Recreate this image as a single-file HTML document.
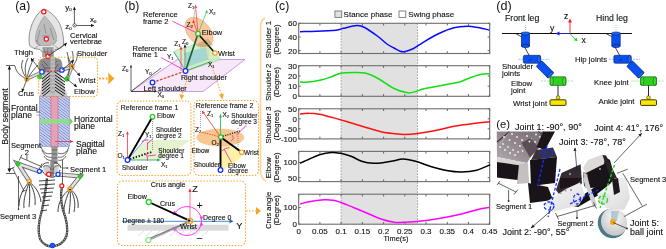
<!DOCTYPE html>
<html><head><meta charset="utf-8"><style>
html,body{margin:0;padding:0;background:#fff;overflow:hidden}
svg{display:block;filter:blur(0.3px)}
text{font-family:"Liberation Sans",sans-serif;fill:#111;stroke:#111;stroke-width:0.12px}
.tl{font-size:8px}
.xl{font-size:8px}
.xl2{font-size:7.4px}
.yl{font-size:7.7px}
.lg{font-size:8px}
.pl{font-size:12px;stroke-width:0}
.pl2{font-size:12.2px;stroke-width:0}
.t85{font-size:9px}
.t75{font-size:7.6px}
.t88{font-size:8.6px}
.t78{font-size:7.8px}
.t7{font-size:7.5px}
.t6{font-size:6.5px}
.t8{font-size:8px}
.t9{font-size:9px}
.sub{font-size:4.2px}
</style></head><body>
<svg width="666" height="249" viewBox="0 0 666 249">
<g id="chartc">
<rect x="341.1" y="23.3" width="76.4" height="200.9" fill="#e1e1e1"/>
<line x1="341.1" y1="23.3" x2="341.1" y2="224.2" stroke="#8a8a8a" stroke-width="0.8" stroke-dasharray="1.5,1.5"/>
<line x1="417.5" y1="23.3" x2="417.5" y2="224.2" stroke="#8a8a8a" stroke-width="0.8" stroke-dasharray="1.5,1.5"/>
<line x1="298.7" y1="23.3" x2="298.7" y2="25.5" stroke="#555" stroke-width="0.9"/>
<line x1="298.7" y1="53.5" x2="298.7" y2="51.3" stroke="#555" stroke-width="0.9"/>
<line x1="319.9" y1="23.3" x2="319.9" y2="25.5" stroke="#555" stroke-width="0.9"/>
<line x1="319.9" y1="53.5" x2="319.9" y2="51.3" stroke="#555" stroke-width="0.9"/>
<line x1="341.1" y1="23.3" x2="341.1" y2="25.5" stroke="#555" stroke-width="0.9"/>
<line x1="341.1" y1="53.5" x2="341.1" y2="51.3" stroke="#555" stroke-width="0.9"/>
<line x1="362.4" y1="23.3" x2="362.4" y2="25.5" stroke="#555" stroke-width="0.9"/>
<line x1="362.4" y1="53.5" x2="362.4" y2="51.3" stroke="#555" stroke-width="0.9"/>
<line x1="383.6" y1="23.3" x2="383.6" y2="25.5" stroke="#555" stroke-width="0.9"/>
<line x1="383.6" y1="53.5" x2="383.6" y2="51.3" stroke="#555" stroke-width="0.9"/>
<line x1="404.8" y1="23.3" x2="404.8" y2="25.5" stroke="#555" stroke-width="0.9"/>
<line x1="404.8" y1="53.5" x2="404.8" y2="51.3" stroke="#555" stroke-width="0.9"/>
<line x1="426.0" y1="23.3" x2="426.0" y2="25.5" stroke="#555" stroke-width="0.9"/>
<line x1="426.0" y1="53.5" x2="426.0" y2="51.3" stroke="#555" stroke-width="0.9"/>
<line x1="447.3" y1="23.3" x2="447.3" y2="25.5" stroke="#555" stroke-width="0.9"/>
<line x1="447.3" y1="53.5" x2="447.3" y2="51.3" stroke="#555" stroke-width="0.9"/>
<line x1="468.5" y1="23.3" x2="468.5" y2="25.5" stroke="#555" stroke-width="0.9"/>
<line x1="468.5" y1="53.5" x2="468.5" y2="51.3" stroke="#555" stroke-width="0.9"/>
<line x1="489.7" y1="23.3" x2="489.7" y2="25.5" stroke="#555" stroke-width="0.9"/>
<line x1="489.7" y1="53.5" x2="489.7" y2="51.3" stroke="#555" stroke-width="0.9"/>
<line x1="298.7" y1="23.3" x2="300.7" y2="23.3" stroke="#555" stroke-width="0.9"/>
<line x1="489.7" y1="23.3" x2="487.7" y2="23.3" stroke="#555" stroke-width="0.9"/>
<text x="296.9" y="26.2" class="tl" text-anchor="end">60</text>
<line x1="298.7" y1="37.0" x2="300.7" y2="37.0" stroke="#555" stroke-width="0.9"/>
<line x1="489.7" y1="37.0" x2="487.7" y2="37.0" stroke="#555" stroke-width="0.9"/>
<text x="296.9" y="39.9" class="tl" text-anchor="end">40</text>
<line x1="298.7" y1="50.6" x2="300.7" y2="50.6" stroke="#555" stroke-width="0.9"/>
<line x1="489.7" y1="50.6" x2="487.7" y2="50.6" stroke="#555" stroke-width="0.9"/>
<text x="296.9" y="53.5" class="tl" text-anchor="end">20</text>
<rect x="298.7" y="23.3" width="191.0" height="30.2" fill="none" stroke="#6e6e6e" stroke-width="1.1"/>
<path d="M300.0,31.7 C302.8,31.6 310.5,31.6 316.5,31.3 C322.5,31.1 331.5,30.7 336.0,30.2 C340.5,29.7 340.0,29.1 343.5,28.3 C347.0,27.5 353.5,25.7 357.0,25.6 C360.5,25.5 361.1,25.7 364.6,27.5 C368.1,29.3 374.3,33.8 378.0,36.5 C381.7,39.2 384.3,42.1 387.0,44.0 C389.7,45.9 391.8,46.8 394.0,48.0 C396.2,49.2 398.1,50.6 400.0,51.2 C401.9,51.8 403.1,52.0 405.3,51.5 C407.6,51.0 410.4,50.1 413.5,48.5 C416.6,46.9 419.8,44.3 424.0,41.8 C428.2,39.3 434.0,35.8 439.0,33.5 C444.0,31.2 449.2,29.0 454.0,27.8 C458.8,26.6 463.6,26.4 467.6,26.3 C471.6,26.2 474.4,26.9 478.0,27.5 C481.6,28.1 487.4,29.6 489.3,30.0" fill="none" stroke="#0a0aff" stroke-width="1.5"/>
<text transform="translate(271.3,39.6) rotate(-90)" class="yl" text-anchor="middle">Shoulder 1</text>
<text transform="translate(279.3,39.6) rotate(-90)" class="yl" text-anchor="middle">(Degree)</text>
<line x1="298.7" y1="65.7" x2="298.7" y2="67.9" stroke="#555" stroke-width="0.9"/>
<line x1="298.7" y1="96.3" x2="298.7" y2="94.1" stroke="#555" stroke-width="0.9"/>
<line x1="319.9" y1="65.7" x2="319.9" y2="67.9" stroke="#555" stroke-width="0.9"/>
<line x1="319.9" y1="96.3" x2="319.9" y2="94.1" stroke="#555" stroke-width="0.9"/>
<line x1="341.1" y1="65.7" x2="341.1" y2="67.9" stroke="#555" stroke-width="0.9"/>
<line x1="341.1" y1="96.3" x2="341.1" y2="94.1" stroke="#555" stroke-width="0.9"/>
<line x1="362.4" y1="65.7" x2="362.4" y2="67.9" stroke="#555" stroke-width="0.9"/>
<line x1="362.4" y1="96.3" x2="362.4" y2="94.1" stroke="#555" stroke-width="0.9"/>
<line x1="383.6" y1="65.7" x2="383.6" y2="67.9" stroke="#555" stroke-width="0.9"/>
<line x1="383.6" y1="96.3" x2="383.6" y2="94.1" stroke="#555" stroke-width="0.9"/>
<line x1="404.8" y1="65.7" x2="404.8" y2="67.9" stroke="#555" stroke-width="0.9"/>
<line x1="404.8" y1="96.3" x2="404.8" y2="94.1" stroke="#555" stroke-width="0.9"/>
<line x1="426.0" y1="65.7" x2="426.0" y2="67.9" stroke="#555" stroke-width="0.9"/>
<line x1="426.0" y1="96.3" x2="426.0" y2="94.1" stroke="#555" stroke-width="0.9"/>
<line x1="447.3" y1="65.7" x2="447.3" y2="67.9" stroke="#555" stroke-width="0.9"/>
<line x1="447.3" y1="96.3" x2="447.3" y2="94.1" stroke="#555" stroke-width="0.9"/>
<line x1="468.5" y1="65.7" x2="468.5" y2="67.9" stroke="#555" stroke-width="0.9"/>
<line x1="468.5" y1="96.3" x2="468.5" y2="94.1" stroke="#555" stroke-width="0.9"/>
<line x1="489.7" y1="65.7" x2="489.7" y2="67.9" stroke="#555" stroke-width="0.9"/>
<line x1="489.7" y1="96.3" x2="489.7" y2="94.1" stroke="#555" stroke-width="0.9"/>
<line x1="298.7" y1="65.7" x2="300.7" y2="65.7" stroke="#555" stroke-width="0.9"/>
<line x1="489.7" y1="65.7" x2="487.7" y2="65.7" stroke="#555" stroke-width="0.9"/>
<text x="296.9" y="68.6" class="tl" text-anchor="end">30</text>
<line x1="298.7" y1="76.0" x2="300.7" y2="76.0" stroke="#555" stroke-width="0.9"/>
<line x1="489.7" y1="76.0" x2="487.7" y2="76.0" stroke="#555" stroke-width="0.9"/>
<text x="296.9" y="78.9" class="tl" text-anchor="end">20</text>
<line x1="298.7" y1="86.2" x2="300.7" y2="86.2" stroke="#555" stroke-width="0.9"/>
<line x1="489.7" y1="86.2" x2="487.7" y2="86.2" stroke="#555" stroke-width="0.9"/>
<text x="296.9" y="89.1" class="tl" text-anchor="end">10</text>
<line x1="298.7" y1="96.3" x2="300.7" y2="96.3" stroke="#555" stroke-width="0.9"/>
<line x1="489.7" y1="96.3" x2="487.7" y2="96.3" stroke="#555" stroke-width="0.9"/>
<text x="296.9" y="99.2" class="tl" text-anchor="end">0</text>
<rect x="298.7" y="65.7" width="191.0" height="30.6" fill="none" stroke="#6e6e6e" stroke-width="1.1"/>
<path d="M300.0,81.8 C301.0,81.9 302.5,82.6 306.0,82.3 C309.5,82.0 316.8,80.9 321.0,80.0 C325.2,79.1 328.2,77.8 331.5,76.7 C334.8,75.6 336.8,74.0 340.5,73.3 C344.2,72.6 349.8,72.5 354.0,72.5 C358.2,72.5 362.0,72.3 366.0,73.3 C370.0,74.3 373.3,76.0 378.0,78.5 C382.7,81.0 389.1,86.1 394.0,88.5 C398.9,90.9 403.8,92.3 407.5,92.8 C411.2,93.3 413.8,92.0 416.5,91.3 C419.2,90.6 419.0,89.8 424.0,88.7 C429.0,87.6 440.7,85.6 446.5,84.5 C452.3,83.4 454.9,83.3 458.6,82.3 C462.4,81.2 465.3,79.5 469.0,78.2 C472.7,76.9 477.5,75.0 481.0,74.3 C484.5,73.5 488.5,73.8 490.0,73.7" fill="none" stroke="#12e012" stroke-width="1.5"/>
<text transform="translate(271.3,82.2) rotate(-90)" class="yl" text-anchor="middle">Shoulder 2</text>
<text transform="translate(279.3,82.2) rotate(-90)" class="yl" text-anchor="middle">(Degree)</text>
<line x1="298.7" y1="108.8" x2="298.7" y2="111.0" stroke="#555" stroke-width="0.9"/>
<line x1="298.7" y1="138.9" x2="298.7" y2="136.70000000000002" stroke="#555" stroke-width="0.9"/>
<line x1="319.9" y1="108.8" x2="319.9" y2="111.0" stroke="#555" stroke-width="0.9"/>
<line x1="319.9" y1="138.9" x2="319.9" y2="136.70000000000002" stroke="#555" stroke-width="0.9"/>
<line x1="341.1" y1="108.8" x2="341.1" y2="111.0" stroke="#555" stroke-width="0.9"/>
<line x1="341.1" y1="138.9" x2="341.1" y2="136.70000000000002" stroke="#555" stroke-width="0.9"/>
<line x1="362.4" y1="108.8" x2="362.4" y2="111.0" stroke="#555" stroke-width="0.9"/>
<line x1="362.4" y1="138.9" x2="362.4" y2="136.70000000000002" stroke="#555" stroke-width="0.9"/>
<line x1="383.6" y1="108.8" x2="383.6" y2="111.0" stroke="#555" stroke-width="0.9"/>
<line x1="383.6" y1="138.9" x2="383.6" y2="136.70000000000002" stroke="#555" stroke-width="0.9"/>
<line x1="404.8" y1="108.8" x2="404.8" y2="111.0" stroke="#555" stroke-width="0.9"/>
<line x1="404.8" y1="138.9" x2="404.8" y2="136.70000000000002" stroke="#555" stroke-width="0.9"/>
<line x1="426.0" y1="108.8" x2="426.0" y2="111.0" stroke="#555" stroke-width="0.9"/>
<line x1="426.0" y1="138.9" x2="426.0" y2="136.70000000000002" stroke="#555" stroke-width="0.9"/>
<line x1="447.3" y1="108.8" x2="447.3" y2="111.0" stroke="#555" stroke-width="0.9"/>
<line x1="447.3" y1="138.9" x2="447.3" y2="136.70000000000002" stroke="#555" stroke-width="0.9"/>
<line x1="468.5" y1="108.8" x2="468.5" y2="111.0" stroke="#555" stroke-width="0.9"/>
<line x1="468.5" y1="138.9" x2="468.5" y2="136.70000000000002" stroke="#555" stroke-width="0.9"/>
<line x1="489.7" y1="108.8" x2="489.7" y2="111.0" stroke="#555" stroke-width="0.9"/>
<line x1="489.7" y1="138.9" x2="489.7" y2="136.70000000000002" stroke="#555" stroke-width="0.9"/>
<line x1="298.7" y1="108.8" x2="300.7" y2="108.8" stroke="#555" stroke-width="0.9"/>
<line x1="489.7" y1="108.8" x2="487.7" y2="108.8" stroke="#555" stroke-width="0.9"/>
<text x="296.9" y="111.7" class="tl" text-anchor="end">50</text>
<line x1="298.7" y1="118.8" x2="300.7" y2="118.8" stroke="#555" stroke-width="0.9"/>
<line x1="489.7" y1="118.8" x2="487.7" y2="118.8" stroke="#555" stroke-width="0.9"/>
<text x="296.9" y="121.7" class="tl" text-anchor="end">0</text>
<line x1="298.7" y1="128.8" x2="300.7" y2="128.8" stroke="#555" stroke-width="0.9"/>
<line x1="489.7" y1="128.8" x2="487.7" y2="128.8" stroke="#555" stroke-width="0.9"/>
<text x="296.9" y="131.7" class="tl" text-anchor="end">-50</text>
<line x1="298.7" y1="138.9" x2="300.7" y2="138.9" stroke="#555" stroke-width="0.9"/>
<line x1="489.7" y1="138.9" x2="487.7" y2="138.9" stroke="#555" stroke-width="0.9"/>
<text x="296.9" y="141.8" class="tl" text-anchor="end">-100</text>
<rect x="298.7" y="108.8" width="191.0" height="30.1" fill="none" stroke="#6e6e6e" stroke-width="1.1"/>
<path d="M300.0,114.0 C301.5,113.9 305.8,113.2 309.0,113.3 C312.2,113.3 315.8,113.6 319.5,114.3 C323.2,115.0 328.0,116.4 331.5,117.3 C335.0,118.2 336.8,118.6 340.5,119.7 C344.2,120.8 349.2,122.4 354.0,123.8 C358.8,125.2 364.5,127.0 369.0,128.3 C373.5,129.6 376.8,130.8 381.0,131.7 C385.2,132.6 390.1,133.2 394.0,133.7 C397.9,134.2 400.5,134.6 404.5,134.6 C408.5,134.6 412.2,134.3 418.0,133.5 C423.8,132.7 433.0,131.0 439.0,129.8 C445.0,128.6 448.5,127.3 454.0,126.3 C459.5,125.3 466.0,124.5 472.0,123.8 C478.0,123.0 487.0,122.1 490.0,121.8" fill="none" stroke="#ff1010" stroke-width="1.5"/>
<text transform="translate(271.3,125.0) rotate(-90)" class="yl" text-anchor="middle">Shoulder 3</text>
<text transform="translate(279.3,125.0) rotate(-90)" class="yl" text-anchor="middle">(Degree)</text>
<line x1="298.7" y1="151.4" x2="298.7" y2="153.6" stroke="#555" stroke-width="0.9"/>
<line x1="298.7" y1="181.6" x2="298.7" y2="179.4" stroke="#555" stroke-width="0.9"/>
<line x1="319.9" y1="151.4" x2="319.9" y2="153.6" stroke="#555" stroke-width="0.9"/>
<line x1="319.9" y1="181.6" x2="319.9" y2="179.4" stroke="#555" stroke-width="0.9"/>
<line x1="341.1" y1="151.4" x2="341.1" y2="153.6" stroke="#555" stroke-width="0.9"/>
<line x1="341.1" y1="181.6" x2="341.1" y2="179.4" stroke="#555" stroke-width="0.9"/>
<line x1="362.4" y1="151.4" x2="362.4" y2="153.6" stroke="#555" stroke-width="0.9"/>
<line x1="362.4" y1="181.6" x2="362.4" y2="179.4" stroke="#555" stroke-width="0.9"/>
<line x1="383.6" y1="151.4" x2="383.6" y2="153.6" stroke="#555" stroke-width="0.9"/>
<line x1="383.6" y1="181.6" x2="383.6" y2="179.4" stroke="#555" stroke-width="0.9"/>
<line x1="404.8" y1="151.4" x2="404.8" y2="153.6" stroke="#555" stroke-width="0.9"/>
<line x1="404.8" y1="181.6" x2="404.8" y2="179.4" stroke="#555" stroke-width="0.9"/>
<line x1="426.0" y1="151.4" x2="426.0" y2="153.6" stroke="#555" stroke-width="0.9"/>
<line x1="426.0" y1="181.6" x2="426.0" y2="179.4" stroke="#555" stroke-width="0.9"/>
<line x1="447.3" y1="151.4" x2="447.3" y2="153.6" stroke="#555" stroke-width="0.9"/>
<line x1="447.3" y1="181.6" x2="447.3" y2="179.4" stroke="#555" stroke-width="0.9"/>
<line x1="468.5" y1="151.4" x2="468.5" y2="153.6" stroke="#555" stroke-width="0.9"/>
<line x1="468.5" y1="181.6" x2="468.5" y2="179.4" stroke="#555" stroke-width="0.9"/>
<line x1="489.7" y1="151.4" x2="489.7" y2="153.6" stroke="#555" stroke-width="0.9"/>
<line x1="489.7" y1="181.6" x2="489.7" y2="179.4" stroke="#555" stroke-width="0.9"/>
<line x1="298.7" y1="162.5" x2="300.7" y2="162.5" stroke="#555" stroke-width="0.9"/>
<line x1="489.7" y1="162.5" x2="487.7" y2="162.5" stroke="#555" stroke-width="0.9"/>
<text x="296.9" y="165.4" class="tl" text-anchor="end">100</text>
<line x1="298.7" y1="177.7" x2="300.7" y2="177.7" stroke="#555" stroke-width="0.9"/>
<line x1="489.7" y1="177.7" x2="487.7" y2="177.7" stroke="#555" stroke-width="0.9"/>
<text x="296.9" y="180.6" class="tl" text-anchor="end">50</text>
<rect x="298.7" y="151.4" width="191.0" height="30.2" fill="none" stroke="#6e6e6e" stroke-width="1.1"/>
<path d="M300.0,163.3 C301.5,162.6 305.8,160.7 309.0,159.3 C312.2,157.9 315.8,155.9 319.5,154.8 C323.2,153.7 328.0,152.8 331.5,152.5 C335.0,152.2 337.2,152.7 340.5,153.3 C343.8,153.9 347.5,155.0 351.0,156.3 C354.5,157.6 357.8,160.0 361.6,161.2 C365.4,162.4 369.9,163.1 373.6,163.3 C377.3,163.5 380.6,163.0 384.0,162.6 C387.4,162.2 390.8,161.4 394.0,160.8 C397.2,160.2 399.2,158.9 403.0,159.0 C406.8,159.1 411.8,160.2 416.5,161.5 C421.2,162.8 426.5,165.3 431.5,166.8 C436.5,168.3 441.5,169.6 446.5,170.5 C451.5,171.4 456.6,172.1 461.6,172.0 C466.6,171.9 471.9,171.4 476.6,170.2 C481.3,169.0 487.8,165.7 490.0,164.8" fill="none" stroke="#000000" stroke-width="1.5"/>
<text transform="translate(271.3,167.7) rotate(-90)" class="yl" text-anchor="middle">Elbow</text>
<text transform="translate(279.3,167.7) rotate(-90)" class="yl" text-anchor="middle">(Degree)</text>
<line x1="298.7" y1="194.2" x2="298.7" y2="196.39999999999998" stroke="#555" stroke-width="0.9"/>
<line x1="298.7" y1="224.2" x2="298.7" y2="222.0" stroke="#555" stroke-width="0.9"/>
<line x1="319.9" y1="194.2" x2="319.9" y2="196.39999999999998" stroke="#555" stroke-width="0.9"/>
<line x1="319.9" y1="224.2" x2="319.9" y2="222.0" stroke="#555" stroke-width="0.9"/>
<line x1="341.1" y1="194.2" x2="341.1" y2="196.39999999999998" stroke="#555" stroke-width="0.9"/>
<line x1="341.1" y1="224.2" x2="341.1" y2="222.0" stroke="#555" stroke-width="0.9"/>
<line x1="362.4" y1="194.2" x2="362.4" y2="196.39999999999998" stroke="#555" stroke-width="0.9"/>
<line x1="362.4" y1="224.2" x2="362.4" y2="222.0" stroke="#555" stroke-width="0.9"/>
<line x1="383.6" y1="194.2" x2="383.6" y2="196.39999999999998" stroke="#555" stroke-width="0.9"/>
<line x1="383.6" y1="224.2" x2="383.6" y2="222.0" stroke="#555" stroke-width="0.9"/>
<line x1="404.8" y1="194.2" x2="404.8" y2="196.39999999999998" stroke="#555" stroke-width="0.9"/>
<line x1="404.8" y1="224.2" x2="404.8" y2="222.0" stroke="#555" stroke-width="0.9"/>
<line x1="426.0" y1="194.2" x2="426.0" y2="196.39999999999998" stroke="#555" stroke-width="0.9"/>
<line x1="426.0" y1="224.2" x2="426.0" y2="222.0" stroke="#555" stroke-width="0.9"/>
<line x1="447.3" y1="194.2" x2="447.3" y2="196.39999999999998" stroke="#555" stroke-width="0.9"/>
<line x1="447.3" y1="224.2" x2="447.3" y2="222.0" stroke="#555" stroke-width="0.9"/>
<line x1="468.5" y1="194.2" x2="468.5" y2="196.39999999999998" stroke="#555" stroke-width="0.9"/>
<line x1="468.5" y1="224.2" x2="468.5" y2="222.0" stroke="#555" stroke-width="0.9"/>
<line x1="489.7" y1="194.2" x2="489.7" y2="196.39999999999998" stroke="#555" stroke-width="0.9"/>
<line x1="489.7" y1="224.2" x2="489.7" y2="222.0" stroke="#555" stroke-width="0.9"/>
<line x1="298.7" y1="207.5" x2="300.7" y2="207.5" stroke="#555" stroke-width="0.9"/>
<line x1="489.7" y1="207.5" x2="487.7" y2="207.5" stroke="#555" stroke-width="0.9"/>
<text x="296.9" y="210.4" class="tl" text-anchor="end">100</text>
<line x1="298.7" y1="224.2" x2="300.7" y2="224.2" stroke="#555" stroke-width="0.9"/>
<line x1="489.7" y1="224.2" x2="487.7" y2="224.2" stroke="#555" stroke-width="0.9"/>
<text x="296.9" y="227.1" class="tl" text-anchor="end">0</text>
<rect x="298.7" y="194.2" width="191.0" height="30.0" fill="none" stroke="#6e6e6e" stroke-width="1.1"/>
<path d="M300.0,204.0 C301.5,203.6 305.0,202.4 309.0,201.7 C313.0,201.0 320.0,200.1 324.0,199.8 C328.0,199.6 330.2,199.8 333.0,200.2 C335.8,200.6 337.0,201.1 340.5,202.3 C344.0,203.6 349.2,205.8 354.0,207.7 C358.8,209.6 364.5,212.1 369.0,214.0 C373.5,215.9 376.8,217.6 381.0,219.0 C385.2,220.4 390.3,221.6 394.0,222.2 C397.7,222.8 399.2,222.4 403.0,222.3 C406.8,222.2 410.5,222.1 416.5,221.5 C422.5,220.9 431.5,219.8 439.0,218.5 C446.5,217.2 455.1,215.5 461.6,214.0 C468.1,212.5 473.4,210.6 478.0,209.5 C482.6,208.4 487.2,207.9 489.0,207.6" fill="none" stroke="#ff00ff" stroke-width="1.5"/>
<text transform="translate(271.3,210.4) rotate(-90)" class="yl" text-anchor="middle">Crus angle</text>
<text transform="translate(279.3,210.4) rotate(-90)" class="yl" text-anchor="middle">(Degree)</text>
<text x="298.7" y="234.2" class="xl" text-anchor="middle">0</text>
<text x="319.9" y="234.2" class="xl" text-anchor="middle">0.05</text>
<text x="341.1" y="234.2" class="xl" text-anchor="middle">0.1</text>
<text x="362.4" y="234.2" class="xl" text-anchor="middle">0.15</text>
<text x="383.6" y="234.2" class="xl" text-anchor="middle">0.2</text>
<text x="404.8" y="234.2" class="xl" text-anchor="middle">0.25</text>
<text x="426.0" y="234.2" class="xl" text-anchor="middle">0.3</text>
<text x="447.3" y="234.2" class="xl" text-anchor="middle">0.35</text>
<text x="468.5" y="234.2" class="xl" text-anchor="middle">0.4</text>
<text x="489.7" y="234.2" class="xl" text-anchor="middle">0.45</text>
<text x="396" y="240.5" class="xl2" text-anchor="middle">Time(s)</text>
<rect x="334.9" y="11" width="6.8" height="6.4" fill="#e1e1e1" stroke="#777" stroke-width="0.9"/>
<text x="343.6" y="17" class="lg">Stance phase</text>
<rect x="399" y="11" width="6.8" height="6.4" fill="#fff" stroke="#777" stroke-width="0.9"/>
<text x="408.3" y="17" class="lg">Swing phase</text>
<text x="275" y="9.8" class="pl2">(c)</text>
</g>
<g id="pa">
<text x="15.3" y="10.2" class="pl2">(a)</text>
<!-- coordinate axes -->
<line x1="74.4" y1="25.5" x2="74.4" y2="9" stroke="#333" stroke-width="0.8"/>
<path d="M73,10 L74.4,6.5 L75.8,10 Z" fill="#111"/>
<line x1="74.4" y1="25.5" x2="92" y2="25.5" stroke="#333" stroke-width="0.8"/>
<path d="M91,24.1 L94.5,25.5 L91,26.9 Z" fill="#111"/>
<circle cx="74.6" cy="25.4" r="1.7" fill="#fff" stroke="#333" stroke-width="0.7"/>
<circle cx="74.4" cy="25.5" r="0.5" fill="#333"/>
<text x="65.3" y="9.5" class="t8">y<tspan class="sub" dy="1" style="font-size:4.3px">0</tspan></text>
<text x="90" y="22" class="t8">x<tspan class="sub" dy="1" style="font-size:4.3px">0</tspan></text>
<text x="65.3" y="28.8" class="t8">z<tspan class="sub" dy="1" style="font-size:4.3px">0</tspan></text>
<!-- skull -->
<path d="M44,9 C39,11 34,18 31,27 C29,33 28.5,40 29.5,45 C31,48 36,49 40,49.5 L43,53 L52,53 L55,49.5 C59,49 63,48 63.5,45 C64,40 63,33 61,27 C58,18 50,11 44,9 Z" fill="#e4e4e4" stroke="#6a6a6a" stroke-width="0.7"/>
<path d="M44.5,16 C41,20 37,28 35.5,36 C35,41 36,44 39,45.5 L50,45.5 C54,44 57,41 56.5,36 C55,28 49,20 44.5,16 Z" fill="#bcbcbc" stroke="#888" stroke-width="0.5"/>
<path d="M36,40 L40,46 M53,46 L57,40 M44,24 L46,34 M40,30 L37,42 M50,28 L54,40 M42,36 L50,36 M38,46 L34,49 M55,46 L59,49" stroke="#666" stroke-width="0.5" fill="none"/>
<!-- neck/shoulder girdle -->
<path d="M42.5,47 L53.5,47 L54,57 L42,57 Z" fill="#a8a8a8"/>
<path d="M44,48 L46,56 M48,48 L47,56 M51,48 L52,56 M43,52 L53,52" stroke="#555" stroke-width="0.5" fill="none"/>
<path d="M40,60 C44,57 52,57 60,59 C63,62 63,68 61,73 L41,73 C38,69 38,63 40,60 Z" fill="#8e8e8e"/>
<path d="M43,61 L48,66 M57,61 L52,66 M44,68 L56,68 M42,64 L46,71 M58,64 L54,71" stroke="#444" stroke-width="0.6" fill="none"/>
<path d="M43,72 L60,72 L67.5,96 L40,96 Z" fill="#c4c4c4"/>
<path d="M50.5,72 L42,79 M50.5,75 L42,82 M50.5,78 L42,85 M50.5,81 L42,88 M50.5,84 L42,91 M50.5,87 L42,94 M50.5,90 L42,97 " stroke="#151515" stroke-width="1" fill="none"/>
<path d="M55,72 L65,79 M55,75 L65,82 M55,78 L65,85 M55,81 L65,88 M55,84 L65,91 M55,87 L65,94 M55,90 L65,97 " stroke="#151515" stroke-width="1" fill="none"/>
<rect x="50.5" y="57" width="4.5" height="39" fill="#bdbdbd"/>
<path d="M50.5,60 L55,60 M50.5,64 L55,64 M50.5,68 L55,68 M50.5,72 L55,72 M50.5,76 L55,76 M50.5,80 L55,80 M50.5,84 L55,84 M50.5,88 L55,88 M50.5,92 L55,92" stroke="#777" stroke-width="0.5"/>
<!-- front limbs -->
<g stroke="#777" stroke-width="3.4" stroke-linecap="round" fill="none">
<path d="M42,72 L27,79"/>
<path d="M62,70 L72,67 L67,79"/>
</g>
<g stroke="#e4e4e4" stroke-width="1.8" stroke-linecap="round" fill="none">
<path d="M42,72 L27,79"/>
<path d="M62,70 L72,67 L67,79"/>
</g>
<g stroke="#2a2a2a" stroke-width="0.75" fill="none">
<path d="M27,79 C22,72 20,66 23,60 M27,79 C24,70 25,64 28,58 M27,79 C28,71 31,64 34,58 M27,79 C31,73 35,68 38,65 M27,79 C20,76 16,72 15,66"/>
<path d="M72,67 C70,62 68,57 67,52 M72,67 C73,61 74,56 72,51 M72,67 C76,62 78,58 77,53 M67,79 C70,72 70,66 68,58"/>
</g>
<!-- ribcage body with planes -->
<defs>
<pattern id="ribp" patternUnits="userSpaceOnUse" width="3.2" height="3.2" patternTransform="rotate(-8)">
<rect width="3.2" height="3.2" fill="#c6d0f4"/>
<path d="M-0.8,-0.8 L4,4 M-0.8,2.4 L0.8,4 M2.4,-0.8 L4,0.8" stroke="#6474b0" stroke-width="0.75"/>
</pattern>
</defs>
<rect x="39.5" y="96.5" width="30" height="50" fill="url(#ribp)" stroke="#8890d0" stroke-width="0.6"/>
<rect x="51" y="96.5" width="7" height="51" fill="#e6a2b4" stroke="#c05080" stroke-width="0.5"/>
<rect x="39.5" y="119" width="30" height="4.8" fill="#8ee08a" fill-opacity="0.9"/>
<path d="M69.5,117.5 L73,121.4 L69.5,125.3 Z" fill="#70d070"/>
<path d="M36.5,115 L40,115" stroke="#666" stroke-width="0.6"/>
<!-- lower ribs / spine -->
<g stroke="#333" stroke-width="0.75" fill="none">
<path d="M41,147 C43,153 48,155 52,153 M69,147 C67,153 62,155 58,153"/>
<path d="M42,150 C45,157 49,158 52,157 M68,150 C65,157 61,158 58,157"/>
<path d="M44,156 C46,160 50,161 52,160 M66,156 C64,160 60,161 58,160"/>
</g>
<rect x="51.5" y="146" width="6" height="18" fill="#9a9a9a"/>
<path d="M51.5,150 L57.5,150 M51.5,154 L57.5,154 M51.5,158 L57.5,158 M51.5,162 L57.5,162" stroke="#444" stroke-width="0.6"/>
<!-- pelvis -->
<path d="M41,168 C42,164 46,162 49,163 M61,168 C60,164 56,162 53,163 M42,170 C44,175 48,177 52,177 C56,177 59,174 60,170" fill="none" stroke="#2a2a2a" stroke-width="0.9"/><path d="M43,166 C47,164 56,164 59,166 L58,172 L44,172 Z" fill="#cfcfcf"/><rect x="50.3" y="160" width="3.8" height="18" fill="#8a8a8a"/>
<path d="M43,167 C46,164 50,166 51,170 M61,167 C58,164 54,166 53,170 M45,173 L58,173" stroke="#333" stroke-width="0.6" fill="none"/>
<!-- hind limbs -->
<g stroke="#6a6a6a" stroke-width="4.4" stroke-linecap="round" fill="none">
<path d="M39.4,171.3 L18,163.8 L29.4,181.3"/>
<path d="M58,174.4 L80,176.3 L70,189"/>
</g>
<g stroke="#e2e2e2" stroke-width="2.6" stroke-linecap="round" fill="none">
<path d="M39.4,171.3 L18,163.8 L29.4,181.3"/>
<path d="M58,174.4 L80,176.3 L70,189"/>
</g>
<!-- feet -->
<g stroke="#222" stroke-width="0.85" fill="none">
<path d="M29,182 C24,188 19,195 19,206 M29,182 C27,190 23,198 24,208 M29,182 C30,190 30,198 29,207 M29,182 C33,188 36,196 35,205 M29,182 C35,186 40,193 41,202"/>
<path d="M70,189 C63,194 58,202 58,212 M70,189 C67,197 63,205 64,215 M70,189 C71,197 70,205 69,214 M70,189 C74,195 76,203 74,212 M70,189 C76,193 79,200 78,208"/>
</g>
<!-- spine & tail -->
<path d="M47,178 C46,190 44,200 42,210 C39,220 37,230 40,239 C43,245 49,247 52.5,246 C58,246.5 64,243 66.5,236 C68.5,228 66,218 63,210 C61,202 60.5,194 61.8,188" fill="none" stroke="#444" stroke-width="2.3"/>
<path d="M47,178 C46,190 44,200 42,210 C39,220 37,230 40,239 C43,245 49,247 52.5,246 C58,246.5 64,243 66.5,236 C68.5,228 66,218 63,210 C61,202 60.5,194 61.8,188" fill="none" stroke="#bbb" stroke-width="1.2" stroke-dasharray="1,1.6"/>
<g stroke="#2a2a2a" stroke-width="0.9" fill="none">
<path d="M39,181 L55,180 M39,185 L55,184 M40,189 L54,188 M41,193 L53,192 M42,197 L52,196 M43,201 L50,200 M42,206 L49,205 M41,211 L47,210"/>
</g>
<!-- joint markers -->
<g fill="#fff" stroke-width="1.2">
<circle cx="43.8" cy="11.8" r="2.1" stroke="#ff1010"/>
<circle cx="46.3" cy="39" r="2.1" stroke="#ff1010"/>
<circle cx="48" cy="56.3" r="2.1" stroke="#ff1010"/>
<circle cx="48.7" cy="174.2" r="2.1" stroke="#ff1010"/>
<circle cx="61.8" cy="185.8" r="2" stroke="#ff1010"/>
</g>
<line x1="44" y1="72" x2="61" y2="70.3" stroke="#ff1010" stroke-width="1.3" stroke-dasharray="1.5,1.8"/>
<g fill="#fff" stroke-width="1.3">
<circle cx="41.9" cy="71.9" r="2.2" stroke="#1040ff"/>
<circle cx="61.9" cy="70" r="2.2" stroke="#1040ff"/>
<circle cx="39.4" cy="171.3" r="2" stroke="#1040ff"/>
<circle cx="58" cy="174.4" r="2" stroke="#1040ff"/>
<circle cx="52.5" cy="245.5" r="2" stroke="#1040ff" fill="#3060ff"/>
</g>
<g fill="#30d030" stroke="#20b020" stroke-width="0.8">
<circle cx="39.75" cy="76.9" r="2.2"/>
<circle cx="66.9" cy="79" r="2.2"/>
<circle cx="18" cy="163.8" r="2.1"/>
<circle cx="80" cy="176.3" r="2.1"/>
</g>
<g fill="none" stroke="#f0a020" stroke-width="1.3">
<circle cx="71.9" cy="66.9" r="2"/>
<circle cx="26.9" cy="79" r="2"/>
<circle cx="29.4" cy="181.3" r="2"/>
<circle cx="70" cy="189" r="2"/>
</g>
<!-- dotted orange box and arrow -->
<path d="M43,57.2 L93,57.2 Q97.5,57.2 97.5,61.5 L97.5,92.5 Q97.5,96.5 93,96.5 L43,96.5 Q38.7,96.5 38.7,92.5 L38.7,61.5 Q38.7,57.2 43,57.2 Z" fill="none" stroke="#f5a623" stroke-width="1.1" stroke-dasharray="1.4,1.6"/>
<path d="M99,78.5 L108,78.5" stroke="#f5a623" stroke-width="2" stroke-dasharray="1.8,1.6"/>
<path d="M108.3,72.5 L114.3,78.5 L108.3,84.5 Z" fill="#f5a623"/>
<!-- pointers -->
<g stroke="#222" stroke-width="0.7" fill="none">
<path d="M48,56 L67,43"/>
<path d="M40,70 L31,58"/>
<path d="M27,79 L22,92"/>
<path d="M61.9,70 L74,60"/>
<path d="M71.9,67 L80,76"/>
<path d="M66.9,79 L77,87"/>

<path d="M9.4,66 L9.4,171"/>
<path d="M6,65.5 L15,65.5 M6,173.5 L15,173.5"/>
<path d="M20.6,157.5 L40.6,166.2 M19.2,160.5 L22,154.5 M39.2,169 L42,163.5 M26.9,155 L26.9,160"/>
<path d="M12.5,168 L24,191 M10.5,169 L14.5,167 M22,192 L26,190 M18.5,176 L18.5,209"/>
<path d="M62.5,160 L62.5,184 M62.5,168 L67,168"/>
<path d="M36,112 L40,112"/>
</g>
<g fill="#111">
<path d="M67,43 L63.5,44 L65.5,46.5 Z"/>
<path d="M31,58 L31.2,61.7 L33.7,60 Z"/>
<path d="M22,92 L21.5,88.5 L24.4,89.5 Z"/>
<path d="M74,60 L70.5,61 L72.5,63.3 Z"/>
<path d="M80,76 L79.5,72.5 L77,74.7 Z"/>
<path d="M77,87 L75.5,83.7 L73.5,86 Z"/>
<path d="M73.5,141.5 L70,140 L70,143 Z" fill="#e03060"/>
<path d="M7.5,168.5 L9.4,172.5 L11.3,168.5 Z"/>
<path d="M7.8,69.5 L9.4,65.8 L11,69.5 Z"/>
<circle cx="18.5" cy="209.3" r="0.8"/>
<circle cx="67.5" cy="168" r="0.8"/>
</g>
<line x1="55" y1="141.5" x2="73" y2="141.5" stroke="#e03060" stroke-width="0.8"/>
<!-- labels -->
<text x="70" y="38" class="t75">Cervical</text>
<text x="70" y="44" class="t75">vertebrae</text>
<text x="14" y="55" class="t75">Thigh</text>
<text x="77" y="56" class="t75">Shoulder</text>
<text x="78.5" y="82.8" class="t75">Wrist</text>
<text x="74" y="93.8" class="t75">Elbow</text>
<text x="18" y="96" class="t75">Crus</text>
<text x="11" y="110.7" class="t88">Frontal</text>
<text x="11" y="117.8" class="t88">plane</text>
<text x="74" y="121.7" class="t88">Horizontal</text>
<text x="74" y="128.8" class="t88">plane</text>
<text x="76" y="147" class="t88">Sagittal</text>
<text x="76" y="154" class="t88">plane</text>
<text x="11" y="147.7" class="t7">Segment</text>
<text x="24.8" y="154.6" class="t7">2</text>
<text x="70" y="171.5" class="t7">Segment 1</text>
<text x="0" y="218.7" class="t7">Segment 3</text>
<text transform="translate(7.9,116.5) rotate(-90)" class="t9" text-anchor="middle" style="font-size:8.8px">Body segment</text>
</g>
<g id="pd">
<text x="496.3" y="9.8" class="pl2" style="font-size:12.6px">(d)</text>
<text x="505" y="20.9" class="t8" style="font-size:8.7px">Front leg</text>
<text x="596" y="20.9" class="t8" style="font-size:8.7px">Hind leg</text>
<line x1="502" y1="33.5" x2="632" y2="33.5" stroke="#111" stroke-width="1"/>
<!-- axes -->
<line x1="570" y1="33.5" x2="570" y2="21" stroke="#f02030" stroke-width="0.9"/>
<path d="M568,22.5 L570,18.5 L572,22.5 Z" fill="#f02030"/>
<line x1="570" y1="33.5" x2="558" y2="33.5" stroke="#2020d0" stroke-width="1"/>
<path d="M559.5,31.6 L555.5,33.5 L559.5,35.4 Z" fill="#2020d0"/>
<line x1="570" y1="33.5" x2="575.5" y2="39.5" stroke="#20d020" stroke-width="0.9"/>
<path d="M573.8,40.3 L577.5,41.3 L576.6,37.6 Z" fill="#20d020"/>
<text x="564" y="19" class="t8" style="font-size:8.6px">z</text>
<text x="550" y="30.5" class="t8" style="font-size:8.6px">y</text>
<text x="581.5" y="42.8" class="t8" style="font-size:8.6px">x</text>
</g>
<line x1="525.5" y1="25" x2="525.5" y2="31" stroke="#70b0f0" stroke-width="0.8" stroke-dasharray="1,1"/>
<path d="M515.5,33.5 L521.0,36.5" stroke="#111" stroke-width="0.8" fill="none"/>
<rect x="521.3" y="33" width="8.4" height="13" fill="#0a50f0" stroke="#08205a" stroke-width="0.6"/>
<ellipse cx="525.5" cy="33.5" rx="4.2" ry="1.6" fill="#1a66ff" stroke="#08205a" stroke-width="0.6"/>
<ellipse cx="525.5" cy="46" rx="4.2" ry="1.6" fill="#0a50f0" stroke="#08205a" stroke-width="0.6"/>
<path d="M524.5,47 L529.5,56" stroke="#111" stroke-width="0.8" fill="none"/>
<line x1="518.5" y1="59.3" x2="549.5" y2="59.3" stroke="#70a8f0" stroke-width="0.7" stroke-dasharray="2,1"/>
<rect x="523.3" y="55.3" width="17.4" height="8" rx="1.5" fill="#0a50f0" stroke="#08205a" stroke-width="0.6"/>
<ellipse cx="539.0" cy="59.3" rx="1.6" ry="4" fill="#1a66ff" stroke="#08205a" stroke-width="0.5"/>
<path d="M528.5,61 L531.5,59" stroke="#111" stroke-width="0.6"/>
<g transform="translate(545.0,69.5) rotate(45)"><rect x="-8.5" y="-4" width="17" height="8" rx="1" fill="#0a50f0" stroke="#08205a" stroke-width="0.6"/><ellipse cx="7.3" cy="0" rx="1.4" ry="4" fill="#1a66ff" stroke="#08205a" stroke-width="0.5"/></g>
<line x1="541.0" y1="81" x2="573.0" y2="81" stroke="#80e080" stroke-width="0.7" stroke-dasharray="2,1"/>
<rect x="550.0" y="76.8" width="16" height="8.6" rx="1.2" fill="#30d020" stroke="#105010" stroke-width="0.6"/>
<ellipse cx="551.7" cy="81.1" rx="1.6" ry="4.2" fill="#40e030" stroke="#105010" stroke-width="0.5"/>
<ellipse cx="564.3" cy="81.1" rx="1.6" ry="4.2" fill="#40e030" stroke="#105010" stroke-width="0.5"/>
<line x1="558.0" y1="85.5" x2="558.0" y2="97" stroke="#111" stroke-width="0.9"/>
<circle cx="558.0" cy="97.6" r="1.9" fill="#f0d800" stroke="#3a3000" stroke-width="0.5"/>
<rect x="550.0" y="99.8" width="16" height="5.6" rx="1" fill="#f8e800" stroke="#2a2400" stroke-width="0.9"/>
<line x1="616.0" y1="25" x2="616.0" y2="31" stroke="#70b0f0" stroke-width="0.8" stroke-dasharray="1,1"/>
<path d="M606.0,33.5 L611.5,36.5" stroke="#111" stroke-width="0.8" fill="none"/>
<rect x="611.8" y="33" width="8.4" height="13" fill="#0a50f0" stroke="#08205a" stroke-width="0.6"/>
<ellipse cx="616.0" cy="33.5" rx="4.2" ry="1.6" fill="#1a66ff" stroke="#08205a" stroke-width="0.6"/>
<ellipse cx="616.0" cy="46" rx="4.2" ry="1.6" fill="#0a50f0" stroke="#08205a" stroke-width="0.6"/>
<path d="M615.0,47 L620.0,56" stroke="#111" stroke-width="0.8" fill="none"/>
<line x1="609.0" y1="59.3" x2="640.0" y2="59.3" stroke="#70a8f0" stroke-width="0.7" stroke-dasharray="2,1"/>
<rect x="613.8" y="55.3" width="17.4" height="8" rx="1.5" fill="#0a50f0" stroke="#08205a" stroke-width="0.6"/>
<ellipse cx="629.5" cy="59.3" rx="1.6" ry="4" fill="#1a66ff" stroke="#08205a" stroke-width="0.5"/>
<path d="M619.0,61 L622.0,59" stroke="#111" stroke-width="0.6"/>
<g transform="translate(635.5,69.5) rotate(45)"><rect x="-8.5" y="-4" width="17" height="8" rx="1" fill="#0a50f0" stroke="#08205a" stroke-width="0.6"/><ellipse cx="7.3" cy="0" rx="1.4" ry="4" fill="#1a66ff" stroke="#08205a" stroke-width="0.5"/></g>
<line x1="631.5" y1="81" x2="663.5" y2="81" stroke="#80e080" stroke-width="0.7" stroke-dasharray="2,1"/>
<rect x="640.5" y="76.8" width="16" height="8.6" rx="1.2" fill="#30d020" stroke="#105010" stroke-width="0.6"/>
<ellipse cx="642.2" cy="81.1" rx="1.6" ry="4.2" fill="#40e030" stroke="#105010" stroke-width="0.5"/>
<ellipse cx="654.8" cy="81.1" rx="1.6" ry="4.2" fill="#40e030" stroke="#105010" stroke-width="0.5"/>
<line x1="648.5" y1="85.5" x2="648.5" y2="97" stroke="#111" stroke-width="0.9"/>
<circle cx="648.5" cy="97.6" r="1.9" fill="#f0d800" stroke="#3a3000" stroke-width="0.5"/>
<rect x="640.5" y="99.8" width="16" height="5.6" rx="1" fill="#f8e800" stroke="#2a2400" stroke-width="0.9"/>
<text x="502" y="68.5" class="t78">Shoulder</text>
<text x="502" y="76" class="t78">joints</text>
<text x="511" y="86" class="t78">Elbow</text>
<text x="511" y="93" class="t78">joint</text>
<text x="513" y="106" class="t78">Wrist joint</text>
<text x="575" y="61.5" class="t78">Hip joints</text>
<text x="594" y="84.5" class="t78">Knee joint</text>
<text x="598.5" y="103.5" class="t78">Ankle joint</text>
<g id="pe">
<defs>
<linearGradient id="plateg" x1="0" y1="1" x2="1" y2="0">
<stop offset="0" stop-color="#b4acb2"/><stop offset="0.55" stop-color="#8e848b"/><stop offset="1" stop-color="#766c73"/>
</linearGradient>
<linearGradient id="whiteg" x1="0" y1="0" x2="1" y2="1">
<stop offset="0" stop-color="#fafafa"/><stop offset="1" stop-color="#dadada"/>
</linearGradient>
<radialGradient id="wheelg" cx="0.6" cy="0.35" r="0.7">
<stop offset="0" stop-color="#fafafa"/><stop offset="1" stop-color="#c4c4c4"/>
</radialGradient>
</defs>
<!-- gray plate -->
<path d="M496.7,131.6 L544,131.6 L537,147 L530,158 L527,163 L497,157 Z" fill="url(#plateg)"/>
<path d="M497,142 L509.5,131.8" stroke="#3a3038" stroke-width="1.1"/><path d="M509.5,131.8 L500,144" stroke="#d8d0d8" stroke-width="0.5"/>
<g fill="#f0eadc">
<circle cx="504" cy="137" r="1"/><circle cx="509.5" cy="140" r="1"/><circle cx="515" cy="143" r="1"/><circle cx="520" cy="146" r="1"/>
<circle cx="512" cy="134" r="1"/><circle cx="517" cy="137" r="1"/><circle cx="522" cy="140" r="1"/><circle cx="527" cy="136" r="1"/>
<circle cx="531" cy="139" r="1"/><circle cx="535" cy="142" r="1"/><circle cx="536" cy="134.5" r="1"/><circle cx="540" cy="137" r="1"/>
<circle cx="500" cy="147" r="1"/><circle cx="505" cy="150" r="1"/><circle cx="510" cy="153" r="1"/><circle cx="515" cy="155" r="1"/>
<circle cx="503" cy="144" r="0.9"/><circle cx="508" cy="147" r="0.9"/><circle cx="513" cy="150" r="0.9"/><circle cx="518" cy="152" r="0.9"/>
</g>
<!-- dark square on plate -->
<path d="M521.5,143 L530.5,138 L539,148 L530,157.5 Z" fill="#5a4e56"/>
<circle cx="529.5" cy="141.5" r="1" fill="#f0eadc"/><circle cx="522.5" cy="151" r="0.9" fill="#f0eadc"/>
<!-- black bar -->
<path d="M543,131.6 L555,131.6 L545,150 L536.5,147 Z" fill="#1c161a"/>
<!-- servo 2 top face -->
<path d="M536,150 L553,147.5 L557,157 L531,160 Z" fill="#3a3238"/>
<!-- servo 1 left -->
<path d="M497,157 L527,163 L525,166 L497,162 Z" fill="#d8d4d4"/>
<path d="M497,162 L521,165.5 L522,180.5 L497,177.5 Z" fill="#1a1418"/>
<path d="M519,164 L528,163 L529,183 L517,184 Z" fill="#c4c0c0"/>
<!-- servo 2 -->
<path d="M530,160 L557,157 L555,183 L531,186 Z" fill="#17121a"/>
<!-- servo lower -->
<path d="M528,183 L548,187 L553,200 L530,203 Z" fill="#1a1418"/>
<!-- dark region / joint3 bracket -->
<path d="M561.5,173 L580.6,164.3 L582,183 L577,192 L561,197 L556,190 Z" fill="#342a32"/>
<circle cx="570" cy="174" r="1.2" fill="#8a8088"/>
<!-- black band -->
<path d="M568,205 L598,185 L612,179 L618,182 L604,192 L578,207 Z" fill="#121014"/>
<path d="M560,178 L582,178 L576,185 L560,189 Z" fill="#1c1418"/>
<!-- servo 4 -->
<path d="M583,168 L588,160 L602.5,154.5 L605,157 L604,164 L586,173 Z" fill="#dedada"/>
<path d="M583,172 L586,173 L604,164 L605,157 L610,160 L617,186 L590,188 L584,186 Z" fill="#18141a"/><path d="M583,172 L587,174 L590,188 L585,188 Z" fill="#c8c4c4"/>
<path d="M602.5,155 L606,155.5 L617,178 L619,190 L612,182 L605,162.5 Z" fill="#2a2428"/>
<circle cx="586.5" cy="175" r="0.9" fill="#c8b880"/><circle cx="600" cy="169" r="0.9" fill="#c8b880"/>
<!-- white bracket seg 2 -->
<path d="M543,204 L566,189 L580,182.5 L585,195 L579,205 L553,212 Z" fill="url(#whiteg)"/>
<circle cx="560.5" cy="193" r="1" fill="#8a8a8a"/><circle cx="565.5" cy="190.5" r="1" fill="#8a8a8a"/><circle cx="571" cy="190" r="1" fill="#8a8a8a"/>
<!-- light diagonal strip -->
<path d="M583,178 L587,178 L597,205 L593,207 Z" fill="#cfcfcf"/>
<!-- white bracket seg3 -->
<path d="M597,194 L610,184 L615,178 L626,178 L630,198 L624,210 L606,208 Z" fill="url(#whiteg)"/>
<circle cx="604" cy="199" r="6" fill="#e0e0e0"/>
<path d="M612,179 L618,178 L620,192 L614,195 Z" fill="#1c181c"/>
<!-- wheel -->
<ellipse cx="612" cy="223.5" rx="14" ry="15" transform="rotate(-25 612 223.5)" fill="#4a7a84"/>
<ellipse cx="614" cy="222" rx="12.8" ry="14" transform="rotate(-25 614 222)" fill="url(#wheelg)"/>
<path d="M611,211 L619,211 L617,221 L611,221 Z" fill="#b4cad0"/>
<circle cx="612.9" cy="222" r="3" fill="#f5a623"/>
<!-- blue dashed joint axes -->
<g stroke="#1030ff" stroke-width="1.3" fill="none" stroke-dasharray="3,1.8">
<line x1="547" y1="146" x2="537" y2="188"/>
<ellipse cx="546.5" cy="153" rx="6.5" ry="3.8"/>
<line x1="560" y1="169" x2="548" y2="217"/>
<ellipse cx="549" cy="206" rx="5" ry="4"/>
<line x1="570" y1="204" x2="600" y2="189"/>
<ellipse cx="577" cy="199" rx="3.5" ry="5"/>
</g>
<g stroke="#20e020" stroke-width="1.3" fill="none" stroke-dasharray="3,1.8">
<line x1="614.5" y1="165" x2="600" y2="208"/>
<ellipse cx="603" cy="200" rx="4.5" ry="4"/>
</g>
<!-- pointer lines -->
<g stroke="#222" stroke-width="0.7" fill="none">
<line x1="538" y1="131" x2="545" y2="137"/>
<line x1="575" y1="148" x2="577" y2="172"/>
<line x1="641.5" y1="133.5" x2="614" y2="163"/>
<line x1="553" y1="209" x2="531" y2="228"/>
<line x1="508.6" y1="190" x2="508.6" y2="201"/>
<line x1="498" y1="183" x2="516" y2="192"/>
<line x1="497" y1="185" x2="500" y2="181"/>
<line x1="514" y1="194.5" x2="518" y2="189.5"/>
<line x1="557" y1="216.5" x2="595" y2="205.5"/><line x1="555.5" y1="213" x2="558.5" y2="219.5"/><line x1="593.5" y1="202.5" x2="596.5" y2="208.5"/>
<line x1="577" y1="211" x2="577" y2="218"/>
<line x1="617" y1="173.3" x2="627.7" y2="169.2"/>
<line x1="622.9" y1="173.3" x2="642.2" y2="205.8"/><line x1="624" y1="216.6" x2="647" y2="204"/>
<line x1="613" y1="222.5" x2="627" y2="228.5"/>
</g>
<g fill="#222">
<path d="M530.5,228.5 L532.8,224.5 L534.8,226.8 Z"/>
<path d="M575,147.5 L573.5,151 L576.5,150.8 Z"/>
<path d="M642,133 L638.3,134.6 L640.6,136.8 Z"/>
<circle cx="627" cy="228.5" r="0.9"/>
<circle cx="508.6" cy="201" r="0.9"/>
<circle cx="577" cy="218" r="0.9"/>
</g>
<text x="496.3" y="127.6" class="pl2" style="font-size:11.3px">(e)</text>
<text x="515" y="129.8" class="t85">Joint 1: -90°, 90°</text>
<text x="594.3" y="130.6" class="t85">Joint 4: 41°, 176°</text>
<text x="559" y="144.8" class="t85">Joint 3: -78°, 78°</text>
<text x="630" y="182" class="t7">Segment 3</text>
<text x="496" y="208.6" class="t7">Segment 1</text>
<text x="557.5" y="226.3" class="t7">Segment 2</text>
<text x="502.5" y="234.8" class="t85">Joint 2: -90°, 55°</text>
<text x="630" y="226.3" class="t85">Joint 5:</text>
<text x="630" y="235.3" class="t85">ball joint</text>
</g>
<g id="pb">
<text x="124.5" y="10.2" class="pl2">(b)</text>
<!-- purple plane -->
<path d="M177.5,59.5 L245,59.5 L203,91.5 L131,91.5 Z" fill="#f6e8f8" stroke="#b888d8" stroke-width="0.8"/>
<!-- green plane (ref frame 1) -->
<path d="M173,51.5 L205,41 L221,59.5 L187,71 Z" fill="#c8ecc0" fill-opacity="0.85" stroke="#90c890" stroke-width="0.5"/>
<path d="M184,53 L206,47 L208,59.5 L187,67 Z" fill="#88c8d8" fill-opacity="0.6"/>
<line x1="185.5" y1="71" x2="174" y2="52" stroke="#3090d0" stroke-width="0.8"/>
<line x1="185.5" y1="71" x2="211" y2="61.5" stroke="#20a050" stroke-width="0.8"/>
<!-- orange ellipse -->
<ellipse cx="199" cy="32" rx="17" ry="11" transform="rotate(48 199 32)" fill="#f8c8a0" stroke="#f0a878" stroke-width="0.6"/>
<path d="M195,45 L208,38.5 L213,45 L201,47.5 Z" fill="#c8a870" fill-opacity="0.8"/>
<!-- axes from elbow -->
<line x1="198" y1="33.7" x2="195.6" y2="7" stroke="#ff3030" stroke-width="0.7"/>
<path d="M194.3,8 L195.6,4.5 L197,8 Z" fill="#ff2020"/>
<line x1="193.5" y1="21" x2="195.6" y2="6" stroke="#999" stroke-width="0.6"/>
<line x1="198" y1="33.7" x2="193.5" y2="22" stroke="#ff3030" stroke-width="0.7"/>
<path d="M192.3,23 L193.3,20 L195,22.5 Z" fill="#ff2020"/>
<line x1="198" y1="33.7" x2="206.5" y2="12" stroke="#30c060" stroke-width="0.7"/>
<path d="M205.2,12.8 L207,9.5 L207.8,13.3 Z" fill="#30c060"/>
<line x1="172.5" y1="21.3" x2="197" y2="33" stroke="#f020c0" stroke-width="0.8"/>
<line x1="161" y1="57.5" x2="184" y2="70" stroke="#f020c0" stroke-width="0.8"/>
<!-- shoulder axes -->
<line x1="181" y1="71" x2="181" y2="48" stroke="#ff4040" stroke-width="0.7"/>
<path d="M179.7,49.5 L181,46 L182.3,49.5 Z" fill="#ff2020"/>
<line x1="185" y1="71" x2="185" y2="46" stroke="#777" stroke-width="0.8"/>
<path d="M183.7,47.5 L185,44 L186.3,47.5 Z" fill="#111"/>
<!-- links -->
<line x1="185.5" y1="71" x2="198" y2="33.7" stroke="#106030" stroke-width="1.6"/>
<line x1="198" y1="33.7" x2="215" y2="53" stroke="#111" stroke-width="1.6"/>
<line x1="208" y1="44" x2="208" y2="60" stroke="#f0b030" stroke-width="0.8" stroke-dasharray="1.2,1"/>
<circle cx="198" cy="33.7" r="2.3" fill="#fff" stroke="#30c020" stroke-width="1.3"/>
<circle cx="215" cy="53" r="2.2" fill="#fff" stroke="#f0a020" stroke-width="1.2"/>
<!-- Z0 X0 Y0 axes at plane corner -->
<line x1="131" y1="91.5" x2="131" y2="66" stroke="#222" stroke-width="0.7"/>
<path d="M130,67.5 L131,64.5 L132,67.5 Z" fill="#222"/>
<line x1="131" y1="91.5" x2="155" y2="91.5" stroke="#222" stroke-width="0.7"/>
<path d="M154,90.5 L157,91.5 L154,92.5 Z" fill="#222"/>
<line x1="131" y1="91.5" x2="161" y2="68" stroke="#222" stroke-width="0.7"/>
<!-- shoulders -->
<line x1="152.5" y1="82.5" x2="185.5" y2="71" stroke="#d03020" stroke-width="1.2" stroke-dasharray="2.5,1.5"/>
<line x1="152.5" y1="82.5" x2="185.5" y2="71" stroke="#e8b070" stroke-width="0.5" stroke-dasharray="2.5,1.5" stroke-dashoffset="2"/>
<circle cx="152.5" cy="82.5" r="2.3" fill="#fff" stroke="#1030ff" stroke-width="1.3"/>
<circle cx="185.5" cy="71" r="2.3" fill="#fff" stroke="#1030ff" stroke-width="1.3"/>
<!-- dotted orange arrows -->
<path d="M187.7,77.7 L182,95" stroke="#f5a623" stroke-width="1.1" stroke-dasharray="1.5,1.5" fill="none"/>
<path d="M179.3,94.3 L181.5,99.5 L184.3,95.3 Z" fill="#f5a623"/>
<path d="M212,67 L221.5,94.5" stroke="#f5a623" stroke-width="1.1" stroke-dasharray="1.5,1.5" fill="none"/>
<path d="M219,94.5 L222.3,99.5 L224,93.8 Z" fill="#f5a623"/>
<!-- labels -->
<text x="143" y="17.2" class="t7">Reference</text>
<text x="143" y="23.8" class="t7">frame 2</text>
<text x="132.5" y="50.6" class="t7">Reference</text>
<text x="132.5" y="57.4" class="t7">frame 1</text>
<text x="188" y="8" class="t6">Z<tspan class="sub" dy="1">1</tspan></text>
<text x="209" y="14" class="t6">X<tspan class="sub" dy="1">2</tspan></text>
<text x="186.5" y="26.6" class="t6">Z<tspan class="sub" dy="1">2</tspan></text>
<text x="201.8" y="35" class="t7">Elbow</text>
<text x="174.3" y="45.5" class="t6">Z<tspan class="sub" dy="1">1</tspan></text>
<text x="182" y="43.5" class="t6">Z<tspan class="sub" dy="1">0</tspan></text>
<text x="167" y="59" class="t6">Y<tspan class="sub" dy="1">1</tspan></text>
<text x="218" y="55.5" class="t7">Wrist</text>
<text x="208" y="67" class="t6">X<tspan class="sub" dy="1">1</tspan></text>
<text x="122" y="70.5" class="t6">Z<tspan class="sub" dy="1">0</tspan></text>
<text x="145" y="74.3" class="t6">Y<tspan class="sub" dy="1">0</tspan></text>
<text x="157.5" y="97" class="t6">X<tspan class="sub" dy="1">0</tspan></text>
<text x="181" y="80" class="t7" style="font-size:7.1px">Right shoulder</text>
<text x="143.5" y="90.5" class="t7">Left shoulder</text>

<!-- boxes -->
<g fill="none" stroke="#f5a623" stroke-width="1.1" stroke-dasharray="1.4,1.6">
<rect x="117" y="101" width="74" height="74.5" rx="5"/>
<rect x="194" y="100.5" width="64.5" height="75" rx="5"/>
<rect x="117.5" y="181" width="128" height="64.5" rx="5"/>
</g>
<!-- ref frame 1 contents -->
<text x="120.8" y="110" class="t7" style="font-size:6.95px">Reference frame 1</text>
<path d="M127.5,160 L160,160 L191,140 L146,140 Z" fill="#e4f2d0"/>
<line x1="127.5" y1="160" x2="127.5" y2="133" stroke="#ff3050" stroke-width="0.8"/>
<path d="M126.2,134.5 L127.5,131 L128.8,134.5 Z" fill="#ff3050"/>
<line x1="127.5" y1="160" x2="158" y2="160" stroke="#30b060" stroke-width="0.9"/>
<path d="M157,158.6 L161,160 L157,161.4 Z" fill="#30b060"/>
<line x1="127.5" y1="160" x2="148" y2="136" stroke="#3090e0" stroke-width="0.8"/>
<line x1="127.5" y1="160" x2="152.5" y2="116.7" stroke="#000" stroke-width="1.8"/>
<line x1="130" y1="159" x2="152.5" y2="151.7" stroke="#111" stroke-width="1.8" stroke-dasharray="1.4,1.6"/>
<line x1="152.5" y1="119" x2="152.5" y2="151" stroke="#555" stroke-width="0.6" stroke-dasharray="1,1"/>
<g stroke="#f030a0" stroke-width="0.9" fill="none">
<path d="M141.7,141.7 Q144.5,139.5 148.3,140"/>
<line x1="147.5" y1="142.5" x2="147.5" y2="150"/>
<line x1="147.5" y1="143.5" x2="153.3" y2="138.3"/>
<path d="M145.8,153.3 Q148,157 147.5,160.8"/>
<line x1="147.5" y1="156" x2="155.8" y2="155"/>
</g>
<circle cx="152.5" cy="116.7" r="2.3" fill="#fff" stroke="#30d030" stroke-width="1.3"/>
<circle cx="127.5" cy="160" r="2.3" fill="#fff" stroke="#1030ff" stroke-width="1.3"/>
<text x="157" y="117.5" class="t6">Elbow</text>
<text x="156" y="132.3" class="t6">Shoulder</text>
<text x="156" y="138.3" class="t6">degree 2</text>
<text x="158.3" y="152.6" class="t6">Shoulder</text>
<text x="158.3" y="158.3" class="t6">degree 1</text>
<text x="118" y="136" class="t6">Z<tspan class="sub" dy="1">1</tspan></text>
<text x="145" y="137" class="t6">Y<tspan class="sub" dy="1">1</tspan></text>
<text x="117.5" y="158" class="t6">O<tspan class="sub" dy="1">1</tspan></text>
<text x="161" y="167" class="t6">X<tspan class="sub" dy="1">1</tspan></text>
<text x="122" y="170" class="t6">Shoulder</text>

<!-- ref frame 2 contents -->
<text x="195.8" y="108.3" class="t7" style="font-size:6.95px">Reference frame 2</text>
<path d="M220.5,137 L220.5,170 Q236,164 244,154 Z" fill="#fdf2a8"/>
<ellipse cx="220.3" cy="137.5" rx="23.5" ry="8.5" fill="#f8c890" stroke="#f0b070" stroke-width="0.5"/>
<line x1="220.5" y1="137" x2="203" y2="112" stroke="#ff3030" stroke-width="0.8"/>
<path d="M202.5,114.3 L201.8,110.5 L205,112.5 Z" fill="#ff3030"/>
<line x1="220.5" y1="137" x2="220.5" y2="116" stroke="#30c060" stroke-width="0.9"/>
<path d="M219,117.5 L220.5,113.5 L222,117.5 Z" fill="#30c060"/>
<line x1="200.5" y1="111" x2="200.5" y2="129" stroke="#666" stroke-width="0.6" stroke-dasharray="1,1"/>
<line x1="220.5" y1="137" x2="201" y2="132" stroke="#ff3030" stroke-width="0.8" stroke-dasharray="1.5,1"/>
<line x1="220.5" y1="137" x2="240" y2="131" stroke="#222" stroke-width="1.3" stroke-dasharray="1.2,1.2"/>
<line x1="238" y1="128" x2="238" y2="152" stroke="#666" stroke-width="0.6" stroke-dasharray="1,1"/>
<line x1="246.7" y1="125" x2="236.5" y2="135" stroke="#f020c0" stroke-width="0.9"/>
<g stroke="#f030a0" stroke-width="0.9" fill="none">
<path d="M221.5,151 Q225,148 229.5,147.5"/>
<line x1="224" y1="149" x2="231.5" y2="162.5"/>
<path d="M232,135 Q235,139 231,141"/>
</g>
<line x1="220.5" y1="137" x2="220.5" y2="168" stroke="#000" stroke-width="1.9"/>
<line x1="220.5" y1="137" x2="241.7" y2="152.2" stroke="#000" stroke-width="1.9"/>
<circle cx="220.8" cy="137" r="2.2" fill="#fff" stroke="#30c020" stroke-width="1.2"/>
<circle cx="220.5" cy="170" r="2.3" fill="#fff" stroke="#1030ff" stroke-width="1.3"/>
<circle cx="241.7" cy="152.2" r="2.2" fill="#fff" stroke="#f0a020" stroke-width="1.2"/>
<text x="207" y="116" class="t6">Z<tspan class="sub" dy="1">1</tspan></text>
<text x="222.5" y="117" class="t6">X<tspan class="sub" dy="1">2</tspan></text>
<text x="231.3" y="118.4" class="t6">Shoulder</text>
<text x="231.3" y="124.4" class="t6">degree 3</text>
<text x="195" y="131.5" class="t6">Z<tspan class="sub" dy="1">2</tspan></text>
<text x="211.5" y="144.5" class="t6">O<tspan class="sub" dy="1">2</tspan></text>
<text x="191.5" y="153" class="t6">Elbow</text>
<text x="244" y="154.5" class="t6">Wrist</text>
<text x="194" y="166.5" class="t6">Shoulder</text>
<text x="228" y="167.5" class="t6">Elbow</text>
<text x="228" y="173" class="t6">degree</text>

<!-- crus angle box contents -->
<text x="150.8" y="187.3" class="t7" style="font-size:7.2px">Crus angle</text>
<rect x="127.5" y="224.7" width="101" height="6" fill="#dadada"/>
<g stroke="#c8c8c8" stroke-width="0.6">
<line x1="138" y1="236" x2="144" y2="231"/><line x1="146" y1="236" x2="152" y2="231"/><line x1="154" y1="236" x2="160" y2="231"/><line x1="162" y1="236" x2="168" y2="231"/><line x1="170" y1="236" x2="176" y2="231"/><line x1="178" y1="236" x2="184" y2="231"/><line x1="186" y1="236" x2="192" y2="231"/><line x1="194" y1="236" x2="200" y2="231"/><line x1="202" y1="236" x2="208" y2="231"/>
</g>
<line x1="122" y1="221.3" x2="230" y2="221.3" stroke="#4090d0" stroke-width="1"/>
<path d="M229.5,219.3 L233.5,221.3 L229.5,223.3 Z" fill="#2060c0"/>
<line x1="190" y1="221" x2="190" y2="191" stroke="#ff2a3a" stroke-width="0.65"/>
<path d="M188.5,192 L190,188 L191.5,192 Z" fill="#ff2030"/>
<path d="M201.5,221 A14.5,14.5 0 0 0 175.1,212.7" fill="none" stroke="#ff30ff" stroke-width="1"/>
<path d="M172.6,215.2 L174.2,210.6 L177.3,213.9 Z" fill="#ff30ff"/>
<path d="M201.5,221 A14.5,14.5 0 0 1 175.1,229.3" fill="none" stroke="#ff30ff" stroke-width="1"/>
<path d="M172.6,226.8 L174.2,231.4 L177.3,228.1 Z" fill="#ff30ff"/>
<path d="M199.8,216.5 L201.5,220.5 L203.2,216.5 Z" fill="#ff30ff"/>
<path d="M199.8,225.5 L201.5,221.5 L203.2,225.5 Z" fill="#ff30ff"/>
<line x1="190" y1="221" x2="148.3" y2="240" stroke="#a8a8a8" stroke-width="2.4"/>
<line x1="189" y1="222" x2="150" y2="238" stroke="#555" stroke-width="0.6"/>
<line x1="148.7" y1="202" x2="190" y2="220.8" stroke="#000" stroke-width="1.9"/>
<circle cx="148.7" cy="202" r="2.5" fill="#fff" stroke="#30d030" stroke-width="1.3"/>
<circle cx="148.3" cy="240" r="2.5" fill="#fff" stroke="#80e080" stroke-width="1.2"/>
<circle cx="190" cy="221" r="2.6" fill="none" stroke="#f0a020" stroke-width="1.2"/>
<text x="192.2" y="192" class="t8" style="font-size:9px">Z</text>
<text x="127.5" y="199.2" class="t7" style="font-size:7.1px">Elbow</text>
<text x="160" y="206.2" class="t7" style="font-size:7.1px">Crus</text>
<text x="196.5" y="208.6" class="t9" style="font-size:10.5px">+</text>
<text x="196.3" y="241.8" class="t9" style="font-size:11px">−</text>
<text x="122.5" y="222.6" class="t7" style="font-size:6.9px">Degree ± 180</text>
<text x="203" y="219.8" class="t7" style="font-size:6.9px">Degree 0</text>
<text x="236.3" y="228.6" class="t8" style="font-size:9.3px">Y</text>
<text x="180" y="228.6" class="t7">Wrist</text>
<!-- arrow to chart 5 -->
<path d="M246,211 L256,211" stroke="#f5a623" stroke-width="1.2" stroke-dasharray="1.5,1.5"/>
<path d="M256,207 L261,211 L256,215 Z" fill="#f5a623"/>
<!-- brace -->
<path d="M265,18 Q260.5,20 260.5,27 L260.5,171 Q260.5,178 266,181" fill="none" stroke="#fad49a" stroke-width="1.6"/>
</g>

</svg>
</body></html>
